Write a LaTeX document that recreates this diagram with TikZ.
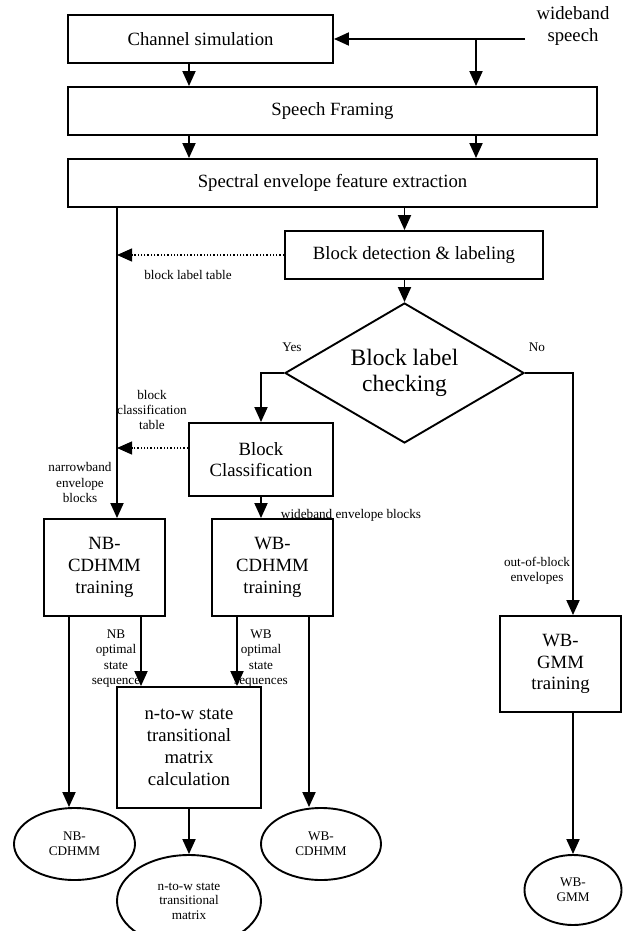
\documentclass[tikz,border=0pt]{standalone}
\usepackage{fontspec}
\setmainfont{Liberation Serif}
\usetikzlibrary{arrows.meta,shapes.geometric}

\begin{document}
\begin{tikzpicture}[x=1pt,y=-1pt,line width=1.9pt,>={Triangle[length=15pt,width=13pt]},
  box/.style={draw,rectangle,align=center,inner sep=1pt,font=\fontsize{18.7}{21.8}\selectfont},
  model/.style={draw,ellipse,align=center,inner sep=0pt,font=\fontsize{13.2}{14.6}\selectfont},
  note/.style={align=center,inner sep=0pt,font=\fontsize{13.2}{15.3}\selectfont},
  tablearrow/.style={->,dotted,line width=1.3pt}]
\path[use as bounding box] (0,0) rectangle (627,931);
\clip (0,0) rectangle (627,931);
% processing blocks
\node[box,minimum width=265pt,minimum height=48pt] (chan) at (200.5,39) {Channel simulation};
\node[box,minimum width=529pt,minimum height=48pt] (frame) at (332.5,111) {Speech Framing};
\node[box,minimum width=529pt,minimum height=48pt] (spec) at (332.5,183) {Spectral envelope feature extraction};
\node[box,minimum width=258pt,minimum height=48pt] (detect) at (414,255) {Block detection \& labeling};
\node[draw,diamond,aspect=1.7,minimum width=239pt,minimum height=140pt,inner sep=0pt,align=center,
  font=\fontsize{23.5}{25.5}\selectfont] (check) at (404.5,373) {Block label\\checking};
\node[box,minimum width=144pt,minimum height=73pt] (bclass) at (261,459.5) {Block\\Classification};
\node[box,minimum width=121pt,minimum height=97pt] (nbtrain) at (104.5,567.5) {NB-\\CDHMM\\training};
\node[box,minimum width=121pt,minimum height=97pt] (wbtrain) at (272.5,567.5) {WB-\\CDHMM\\training};
\node[box,minimum width=121pt,minimum height=96pt] (gmmtrain) at (560.5,664) {WB-\\GMM\\training};
\node[box,minimum width=144pt,minimum height=121pt] (ntow) at (189,747.5) {n-to-w state\\transitional\\matrix\\calculation};
% trained models
\node[model,minimum width=121pt,minimum height=72pt] (nbmod) at (74.5,844) {NB-\\CDHMM};
\node[model,minimum width=120pt,minimum height=72pt] (wbmod) at (321,844) {WB-\\CDHMM};
\node[model,minimum width=144pt,minimum height=92pt] (ntowmat) at (189,901) {n-to-w state\\transitional\\matrix};
\node[model,minimum width=97pt,minimum height=70pt] (gmmmod) at (573,890) {WB-\\GMM};
% labels
\node[align=center,inner sep=0pt,font=\fontsize{18.7}{21.7}\selectfont] (inp) at (573,26) {wideband\\speech};
\node[note] (lbltab) at (188,275) {block label table};
\node[note] (yes) at (292,347) {Yes};
\node[note] (no) at (537,347) {No};
\node[note] (clstab) at (152,410) {block\\classification\\table};
\node[note] (nbenv) at (80,482.5) {narrowband\\envelope\\blocks};
\node[note] (wbenv) at (351,515) {wideband envelope blocks};
\node[note] (oob) at (537,571) {out-of-block\\envelopes};
\node[note] (nbseq) at (116,658.5) {NB\\optimal\\state\\sequence};
\node[note] (wbseq) at (261,658.5) {WB\\optimal\\state\\sequences};
% lanes
\coordinate (src) at (525,39);
\coordinate (br) at (476,39);
\coordinate (left) at (189,0);
\coordinate (lane) at (117,0);
\coordinate (rlane) at (573,0);
% connectors
\draw[->] (src) -- (chan.east);
\draw[->] (br) -- (br |- frame.north);
\draw[->] (chan.south -| left) -- (frame.north -| left);
\draw[->] (frame.south -| left) -- (spec.north -| left);
\draw[->] (frame.south -| br) -- (spec.north -| br);
\draw[->] (spec.south -| check) -- (detect.north -| check);
\draw[->] (detect.south -| check) -- (check.north);
\draw[->] (spec.south -| lane) -- (nbtrain.north -| lane);
\draw[tablearrow] (detect.west) -- (detect.west -| lane);
\draw[tablearrow] ([yshift=11.5pt]bclass.west) -- ([yshift=11.5pt]bclass.west -| lane);
\draw[->] (check.west) -| (bclass.north);
\draw[->] (check.east) -| (gmmtrain.north -| rlane);
\draw[->] (bclass.south) -- (bclass.south |- wbtrain.north);
\draw[->] ([xshift=-35.5pt]nbtrain.south) -- ([xshift=-35.5pt]nbtrain.south |- nbmod.north);
\draw[->] ([xshift=36.5pt]nbtrain.south) -- ([xshift=36.5pt]nbtrain.south |- ntow.north);
\draw[->] ([xshift=-35.5pt]wbtrain.south) -- ([xshift=-35.5pt]wbtrain.south |- ntow.north);
\draw[->] ([xshift=36.5pt]wbtrain.south) -- ([xshift=36.5pt]wbtrain.south |- wbmod.north);
\draw[->] (ntow.south) -- (ntowmat.north);
\draw[->] (gmmtrain.south -| rlane) -- (gmmmod.north);
\end{tikzpicture}
\end{document}
